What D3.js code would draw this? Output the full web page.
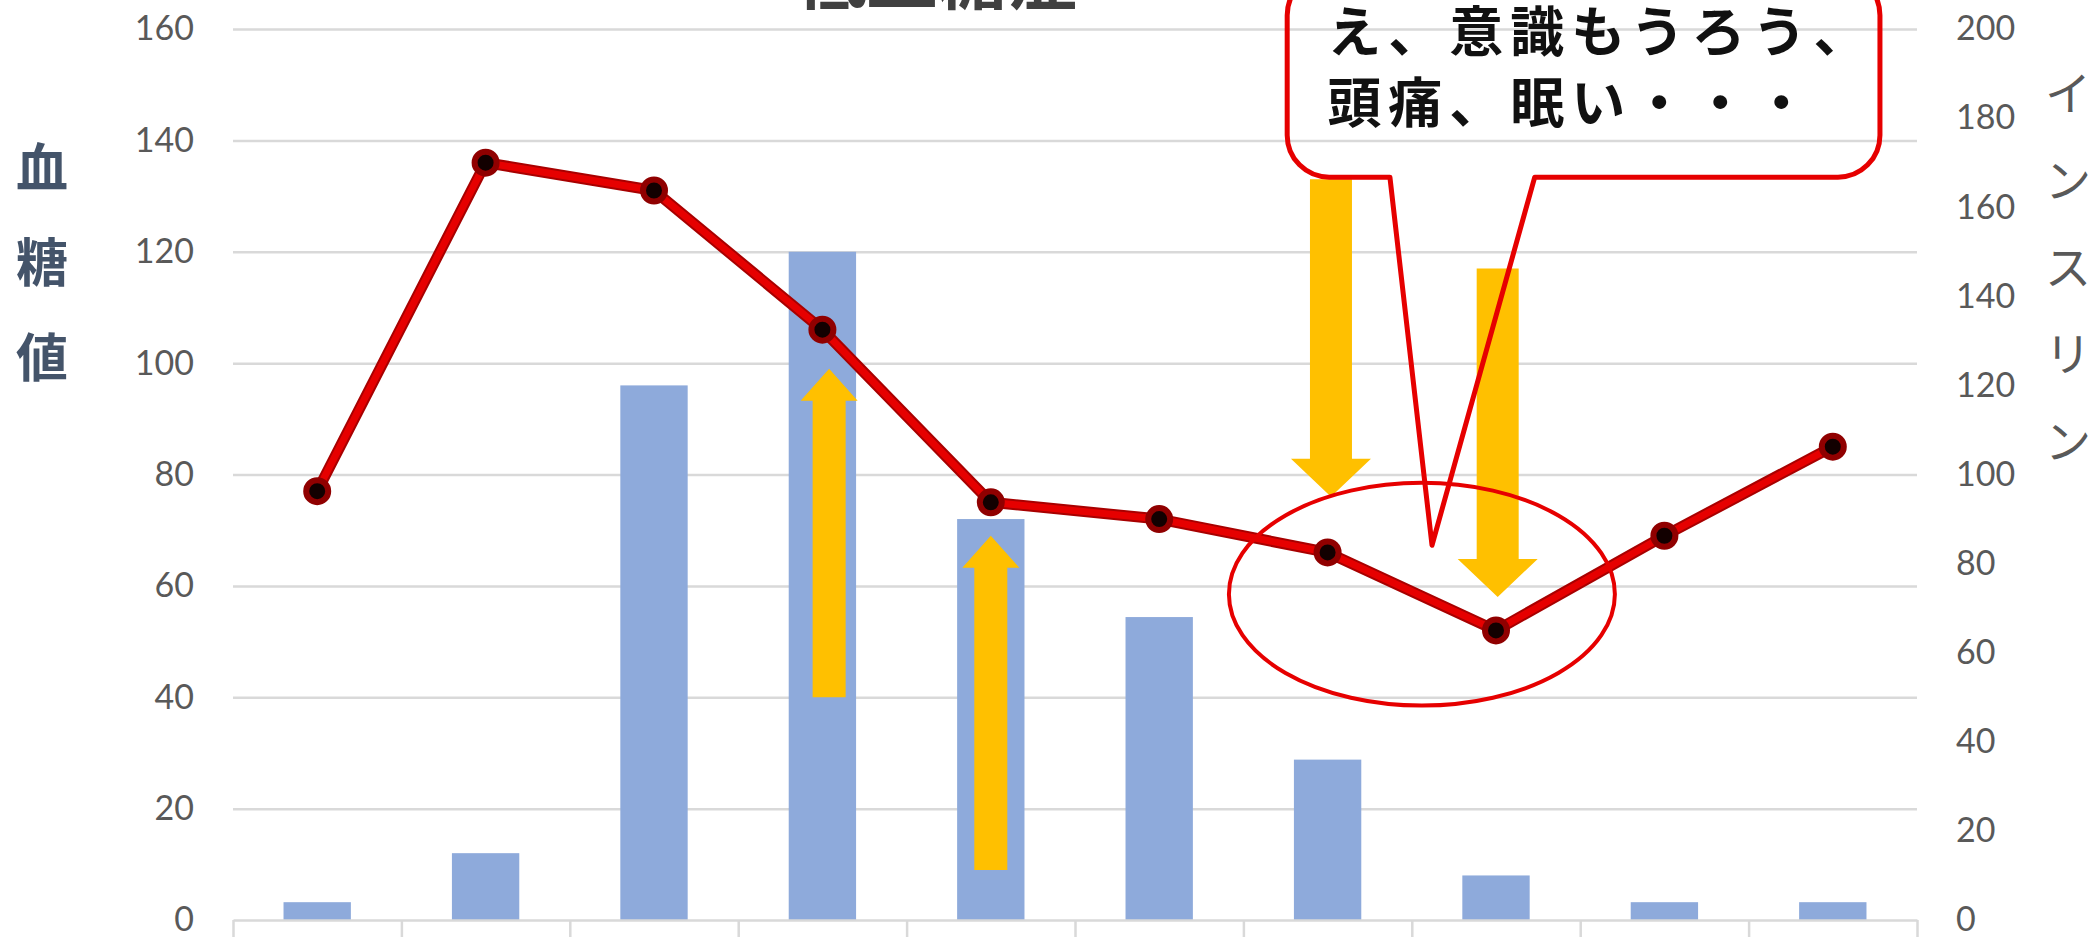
<!DOCTYPE html>
<html lang="ja">
<head>
<meta charset="utf-8">
<title>低血糖症</title>
<script src="https://cdn.jsdelivr.net/npm/d3@7"></script>
<style>
  html, body { margin: 0; padding: 0; background: #fff; }
  svg { display: block; }
</style>
</head>
<body>
<div id="chart"></div>
<script>
'use strict'

const WIDTH = 2098
const HEIGHT = 937
const MARGIN = { top: 29, right: 181, bottom: 17, left: 233 }

// data
const CATEGORIES = ['1', '2', '3', '4', '5', '6', '7', '8', '9', '10']
const GLUCOSE = [77, 136, 131, 106, 75, 72, 66, 52, 69, 85]
const INSULIN = [4, 15, 120, 150, 90, 68, 36, 10, 4, 4]
const GLUCOSE_TICKS = [0, 20, 40, 60, 80, 100, 120, 140, 160]
const INSULIN_TICKS = [0, 20, 40, 60, 80, 100, 120, 140, 160, 180, 200]

const TITLE = '低血糖症'
const LEFT_LABEL = ['血', '糖', '値']
const RIGHT_LABEL = ['イ', 'ン', 'ス', 'リ', 'ン']
const CALLOUT_LINES = ['え、意識もうろう、', '頭痛、眠い・・・']

// annotations, in category index / glucose units
const ARROWS = [
  { at: 3.04, from: 40, to: 99, kind: 'up' },
  { at: 4.0, from: 9, to: 69, kind: 'up' },
  { at: 6.02, from: 133, to: 76, kind: 'down' },
  { at: 7.01, from: 117, to: 58, kind: 'down' }
]
const ARROW_STYLE = {
  up: { shaft: 33, head: 57, len: 32 },
  down: { shaft: 42, head: 80, len: 38 }
}
const ELLIPSE = { at: 6.56, value: 58.5, rx: 1.146, ry: 20 }
const CALLOUT = { left: 5.76, right: 9.28, bottom: 133.4, top: 170, baseL: 6.37, baseR: 7.23, tipAt: 6.62, tipValue: 67.3 }

const RED = '#e60000'
const GRID = '#d9d9d9'
const TICK_FONT = 'Lato, "Liberation Sans", sans-serif'
const JP_FONT = '"Noto Sans CJK JP", "Noto Sans", sans-serif'

const width = WIDTH - MARGIN.left - MARGIN.right
const height = HEIGHT - MARGIN.top - MARGIN.bottom

const svg = d3.select('#chart').append('svg')
  .attr('width', WIDTH)
  .attr('height', HEIGHT)

svg.append('rect').attr('width', WIDTH).attr('height', HEIGHT).attr('fill', '#fff')

const g = svg.append('g')
  .attr('transform', 'translate(' + MARGIN.left + ',' + MARGIN.top + ')')

const x = d3.scaleBand()
  .domain(CATEGORIES)
  .range([0, width])
  .paddingInner(0.6)
  .paddingOuter(0.3)

// category index (may be fractional) -> centre of that category
const cx = i => x.step() * (i + 0.5)
const xEdge = d3.scaleLinear().domain([0, CATEGORIES.length]).range([0, width])

const yLeft = d3.scaleLinear().domain([0, 160]).range([height, 0])
const yRight = d3.scaleLinear().domain([0, 200]).range([height, 0])

// gridlines
g.append('g')
  .call(d3.axisLeft(yLeft).tickValues(GLUCOSE_TICKS.slice(1)).tickSize(-width).tickFormat(''))
  .call(s => s.select('.domain').remove())
  .selectAll('line')
  .attr('stroke', GRID)
  .attr('stroke-width', 2.5)

// left tick labels
g.append('g')
  .call(d3.axisLeft(yLeft).tickValues(GLUCOSE_TICKS).tickSize(0).tickPadding(39))
  .attr('font-family', TICK_FONT)
  .attr('font-size', 34)
  .call(s => s.select('.domain').remove())
  .selectAll('text')
  .attr('fill', '#595959')

// right tick labels
g.append('g')
  .attr('transform', 'translate(' + width + ',0)')
  .call(d3.axisRight(yRight).tickValues(INSULIN_TICKS).tickSize(0).tickPadding(39))
  .attr('font-family', TICK_FONT)
  .attr('font-size', 34)
  .call(s => s.select('.domain').remove())
  .selectAll('text')
  .attr('fill', '#595959')

// bars (insulin, right axis)
g.selectAll('.bar')
  .data(INSULIN)
  .join('rect')
  .attr('class', 'bar')
  .attr('x', (d, i) => x(CATEGORIES[i]))
  .attr('y', d => yRight(d))
  .attr('width', x.bandwidth())
  .attr('height', d => height - yRight(d))
  .attr('fill', '#8eaadb')

// category axis
g.append('g')
  .attr('transform', 'translate(0,' + height + ')')
  .call(d3.axisBottom(xEdge).tickValues(d3.range(CATEGORIES.length + 1)).tickSize(20).tickSizeOuter(0).tickFormat(''))
  .call(s => s.selectAll('.domain, line').attr('stroke', GRID).attr('stroke-width', 2.5))

// yellow arrows
function arrowPath (c, y0, y1, st) {
  const dir = Math.sign(y1 - y0)
  const yb = y1 - dir * st.len
  return 'M' + (c - st.shaft / 2) + ',' + y0 +
    'L' + (c - st.shaft / 2) + ',' + yb +
    'L' + (c - st.head / 2) + ',' + yb +
    'L' + c + ',' + y1 +
    'L' + (c + st.head / 2) + ',' + yb +
    'L' + (c + st.shaft / 2) + ',' + yb +
    'L' + (c + st.shaft / 2) + ',' + y0 + 'Z'
}

g.selectAll('.arrow')
  .data(ARROWS)
  .join('path')
  .attr('class', 'arrow')
  .attr('d', a => arrowPath(cx(a.at), yLeft(a.from), yLeft(a.to), ARROW_STYLE[a.kind]))
  .attr('fill', '#ffc000')

// glucose line (left axis)
const line = d3.line()
  .x((d, i) => cx(i))
  .y(d => yLeft(d))

g.append('path')
  .datum(GLUCOSE)
  .attr('d', line)
  .attr('fill', 'none')
  .attr('stroke', '#a80000')
  .attr('stroke-width', 11)
  .attr('stroke-linejoin', 'round')

g.append('path')
  .datum(GLUCOSE)
  .attr('d', line)
  .attr('fill', 'none')
  .attr('stroke', RED)
  .attr('stroke-width', 7)
  .attr('stroke-linejoin', 'round')

g.selectAll('.dot')
  .data(GLUCOSE)
  .join('circle')
  .attr('class', 'dot')
  .attr('cx', (d, i) => cx(i))
  .attr('cy', d => yLeft(d))
  .attr('r', 11)
  .attr('fill', '#120000')
  .attr('stroke', '#900000')
  .attr('stroke-width', 6)

// red ellipse
g.append('ellipse')
  .attr('cx', cx(ELLIPSE.at))
  .attr('cy', yLeft(ELLIPSE.value))
  .attr('rx', x.step() * ELLIPSE.rx)
  .attr('ry', yLeft(0) - yLeft(ELLIPSE.ry))
  .attr('fill', 'none')
  .attr('stroke', RED)
  .attr('stroke-width', 4)

// callout box with pointer
const bl = cx(CALLOUT.left)
const br = cx(CALLOUT.right)
const bt = yLeft(CALLOUT.top)
const bb = yLeft(CALLOUT.bottom)
const r = 42
const calloutPath = 'M' + (bl + r) + ',' + bt +
  'H' + (br - r) +
  'A' + r + ',' + r + ' 0 0 1 ' + br + ',' + (bt + r) +
  'V' + (bb - r) +
  'A' + r + ',' + r + ' 0 0 1 ' + (br - r) + ',' + bb +
  'H' + cx(CALLOUT.baseR) +
  'L' + cx(CALLOUT.tipAt) + ',' + yLeft(CALLOUT.tipValue) +
  'L' + cx(CALLOUT.baseL) + ',' + bb +
  'H' + (bl + r) +
  'A' + r + ',' + r + ' 0 0 1 ' + bl + ',' + (bb - r) +
  'V' + (bt + r) +
  'A' + r + ',' + r + ' 0 0 1 ' + (bl + r) + ',' + bt + 'Z'

g.append('path')
  .attr('d', calloutPath)
  .attr('fill', 'none')
  .attr('stroke', RED)
  .attr('stroke-width', 5)
  .attr('stroke-linejoin', 'round')

svg.selectAll('.callout-text')
  .data(CALLOUT_LINES)
  .join('text')
  .attr('class', 'callout-text')
  .attr('x', MARGIN.left + bl + 40)
  .attr('y', (d, i) => 52 + i * 71)
  .attr('font-family', JP_FONT)
  .attr('font-size', 54)
  .attr('font-weight', 700)
  .attr('letter-spacing', 7)
  .attr('fill', '#111')
  .text(d => d)

// title (cut off at the top edge)
svg.append('text')
  .attr('x', 937)
  .attr('y', 4)
  .attr('text-anchor', 'middle')
  .attr('font-family', JP_FONT)
  .attr('font-size', 70)
  .attr('font-weight', 700)
  .attr('fill', '#404040')
  .text(TITLE)

// axis titles, one character per row
svg.selectAll('.left-label')
  .data(LEFT_LABEL)
  .join('text')
  .attr('class', 'left-label')
  .attr('x', 42)
  .attr('y', (d, i) => 167 + i * 95 + 0.38 * 52)
  .attr('text-anchor', 'middle')
  .attr('font-family', JP_FONT)
  .attr('font-size', 52)
  .attr('font-weight', 700)
  .attr('fill', '#44546a')
  .text(d => d)

svg.selectAll('.right-label')
  .data(RIGHT_LABEL)
  .join('text')
  .attr('class', 'right-label')
  .attr('x', 2068)
  .attr('y', (d, i) => 93 + i * 87 + 0.38 * 46)
  .attr('text-anchor', 'middle')
  .attr('font-family', JP_FONT)
  .attr('font-size', 46)
  .attr('fill', '#595959')
  .text(d => d)
</script>
</body>
</html>
